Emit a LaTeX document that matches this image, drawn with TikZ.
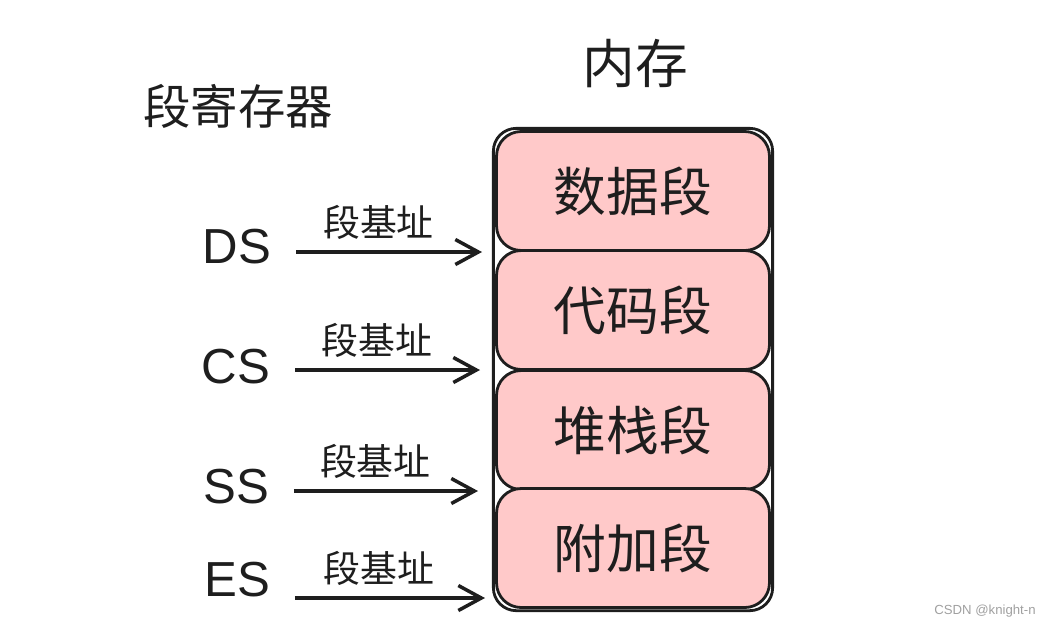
\documentclass[tikz,border=0pt]{standalone}
\usepackage{fontspec}
\setmainfont{Noto Sans CJK SC}
\newfontfamily\regfont{Liberation Sans}
\usetikzlibrary{arrows.meta,positioning,calc,fit,backgrounds}
\definecolor{cSeg}{HTML}{FFC9C9}
\definecolor{cInk}{HTML}{1E1E1E}
\definecolor{cMark}{HTML}{A0A0A0}
\tikzset{
  segbox/.style={draw=cInk, fill=cSeg, line width=1.6pt, rounded corners=14pt,
                 minimum width=5.46cm, minimum height=2.38cm, inner sep=0pt,
                 font=\fontsize{30}{34}\selectfont, text=cInk},
  membox/.style={draw=cInk, fill=white, line width=1.6pt, rounded corners=13pt},
  reglbl/.style={font=\regfont\fontsize{28}{30}\selectfont, text=cInk, inner sep=2pt},
  regarr/.style={-{Straight Barb[length=4.6mm,width=5mm]}, line width=2pt, draw=cInk,
                 shorten <=12pt},
  baselbl/.style={font=\fontsize{21}{24}\selectfont, text=cInk, inner sep=1pt},
  ttl/.style={font=\fontsize{#1}{#1}\selectfont, text=cInk},
}

\begin{document}
\begin{tikzpicture}[x=0.02cm, y=-0.02cm]
\useasboundingbox (0,0) rectangle (1044,627);
% ---- memory column
\node[segbox] (s1) at (633,191) {数据段};
\node[segbox] (s2) at (633,310) {代码段};
\node[segbox] (s3) at (633,430) {堆栈段};
\node[segbox] (s4) at (633,548) {附加段};
\begin{scope}[on background layer]
  \node[membox, fit=(s1)(s4), inner sep=1pt] (mem) {};
\end{scope}
\node[ttl=30] (memttl) at (635,64) {内存};
% ---- segment registers
\node[ttl=27] (regttl) at (238,106) {段寄存器};
\node[reglbl] (rDS) at (237,247) {DS};
\node[reglbl] (rCS) at (236,367) {CS};
\node[reglbl] (rSS) at (236,487) {SS};
\node[reglbl] (rES) at (237,580) {ES};
\coordinate (tDS) at (482,252);
\coordinate (tCS) at (480,370);
\coordinate (tSS) at (478,491);
\coordinate (tES) at (485,598);
\foreach \r in {DS, CS, SS, ES}
  \draw[regarr] (r\r.east |- t\r) -- node[baselbl, above=5pt, pos=0.5] {段基址} (t\r);
% ---- watermark
\node[font=\regfont\fontsize{7.5}{9}\selectfont, text=cMark] (mark) at (985,611) {CSDN @knight-n};
\end{tikzpicture}
\end{document}
